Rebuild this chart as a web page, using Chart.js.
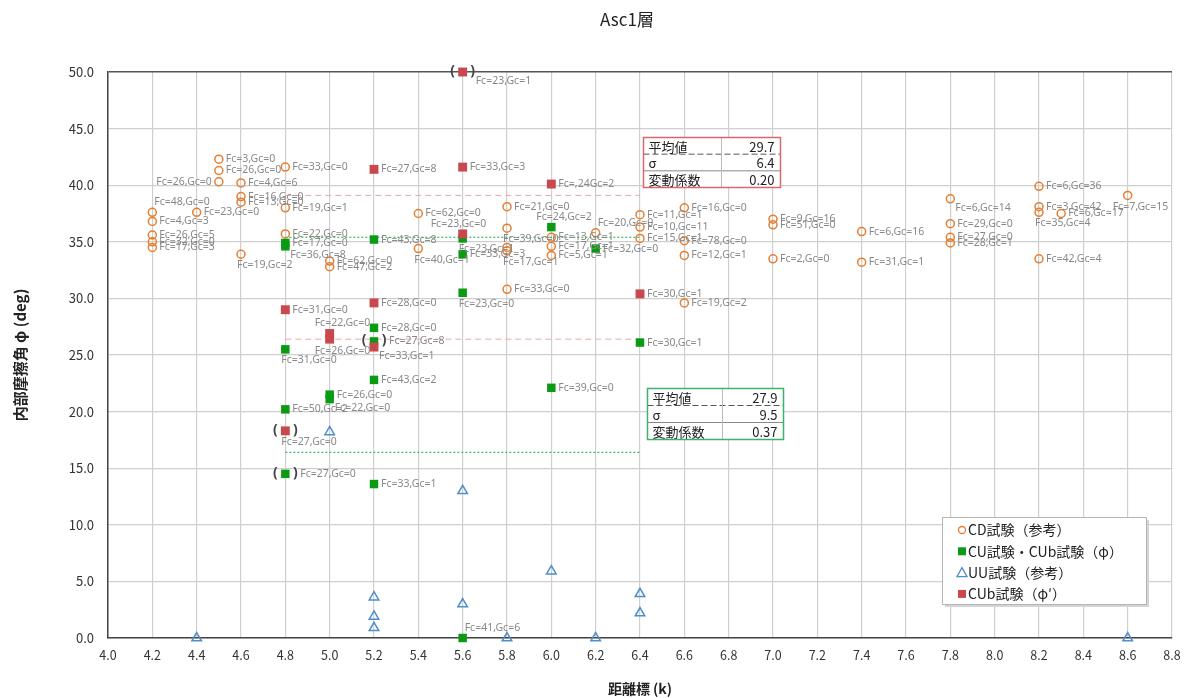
<!DOCTYPE html>
<html lang="ja">
<head>
<meta charset="UTF-8">
<title>Asc1層</title>
<script src="https://cdn.jsdelivr.net/npm/chart.js"></script>
<style>
  html, body { margin: 0; padding: 0; background: #fff; }
  #wrap { width: 1185px; height: 698px; }
</style>
</head>
<body>
<div id="wrap"><canvas id="chart" width="1185" height="698"></canvas></div>
<script>
// ---- axes ----
const xMin = 4.0, xMax = 8.8, xStep = 0.2;
const yMin = 0, yMax = 50, yStep = 5;

// ---- CD試験（参考） ----
const cdX = [4.5, 4.5, 4.5, 4.6, 4.6, 4.6, 4.8, 4.8, 4.2, 4.4, 4.2, 4.2, 4.2, 4.2, 4.6, 4.8, 5.0, 5.0,
  5.4, 5.4, 5.8, 5.8, 5.8, 5.8, 5.8, 6.0, 6.0, 6.0, 6.2, 6.4, 6.4, 6.4, 6.6, 6.6, 6.6, 6.6,
  7.0, 7.0, 7.0, 7.4, 7.4, 7.8, 7.8, 7.8, 7.8, 8.2, 8.2, 8.2, 8.3, 8.2, 8.6];
const cdY = [42.3, 41.3, 40.3, 40.2, 39.0, 38.5, 41.6, 38.0, 37.6, 37.6, 36.8, 35.6, 35.0, 34.5, 33.9, 35.7, 33.3, 32.8,
  37.5, 34.4, 38.1, 36.2, 34.5, 34.2, 30.8, 35.4, 34.6, 33.8, 35.8, 37.4, 36.3, 35.3, 38.0, 35.1, 33.8, 29.6,
  37.0, 36.5, 33.5, 35.9, 33.2, 38.8, 36.6, 35.4, 34.9, 39.9, 38.1, 37.6, 37.5, 33.5, 39.1];
const cdText = ['Fc=3,Gc=0', 'Fc=26,Gc=0', 'Fc=26,Gc=0', 'Fc=4,Gc=6', 'Fc=16,Gc=0', 'Fc=13,Gc=0', 'Fc=33,Gc=0', 'Fc=19,Gc=1',
  'Fc=48,Gc=0', 'Fc=23,Gc=0', 'Fc=4,Gc=3', 'Fc=26,Gc=5', 'Fc=32,Gc=0', 'Fc=17,Gc=3', 'Fc=19,Gc=2', 'Fc=22,Gc=0',
  'Fc=62,Gc=0', 'Fc=47,Gc=2', 'Fc=62,Gc=0', 'Fc=40,Gc=1', 'Fc=21,Gc=0', 'Fc=39,Gc=0', '', 'Fc=17,Gc=1', 'Fc=33,Gc=0',
  'Fc=13,Gc=1', 'Fc=17,Gc=1', 'Fc=5,Gc=1', 'Fc=20,Gc=0', 'Fc=11,Gc=1', 'Fc=10,Gc=11', 'Fc=15,Gc=1',
  'Fc=16,Gc=0', 'Fc=78,Gc=0', 'Fc=12,Gc=1', 'Fc=19,Gc=2', 'Fc=9,Gc=16', 'Fc=51,Gc=0', 'Fc=2,Gc=0',
  'Fc=6,Gc=16', 'Fc=31,Gc=1', 'Fc=6,Gc=14', 'Fc=29,Gc=0', 'Fc=27,Gc=0', 'Fc=28,Gc=1',
  'Fc=6,Gc=36', 'Fc=3,Gc=42', 'Fc=35,Gc=4', 'Fc=6,Gc=17', 'Fc=42,Gc=4', 'Fc=7,Gc=15'];
// where each label sits next to its marker
const cdPlace = ['r', 'r', 'l', 'r', 'r', 'r', 'r', 'r', 'ar', 'r', 'r', 'r', 'r', 'r', 'b', 'r', 'r', 'r',
  'r', 'b', 'r', 'b', 'r', 'b', 'r', 'r', 'r', 'r', 'ar', 'r', 'r', 'r', 'r', 'r', 'r', 'r',
  'r', 'r', 'r', 'r', 'r', 'rb', 'r', 'r', 'r', 'r', 'r', 'b', 'r', 'r', 'bl'];

// ---- CU試験・CUb試験（φ） ----
const cuX = [4.8, 4.8, 5.2, 5.6, 5.6, 5.6, 5.6, 6.0, 6.0, 6.2, 6.4, 4.8, 5.2, 5.2, 5.2, 5.0, 5.0, 4.8, 4.8, 5.2];
const cuY = [34.9, 34.6, 35.2, 35.3, 33.9, 30.5, 0.0, 36.3, 22.1, 34.4, 26.1, 25.5, 27.4, 26.2, 22.8, 21.5, 21.1, 20.2, 14.5, 13.6];
const cuText = ['Fc=17,Gc=0', 'Fc=36,Gc=8', 'Fc=43,Gc=8', 'Fc=23,Gc=1', 'Fc=33,Gc=3', 'Fc=23,Gc=0', 'Fc=41,Gc=6',
  'Fc=24,Gc=2', 'Fc=39,Gc=0', 'Fc=32,Gc=0', 'Fc=30,Gc=1', 'Fc=31,Gc=0', 'Fc=28,Gc=0', 'Fc=27,Gc=8',
  'Fc=43,Gc=2', 'Fc=26,Gc=0', 'Fc=22,Gc=0', 'Fc=50,Gc=2', 'Fc=27,Gc=0', 'Fc=33,Gc=1'];
const cuPlace = ['r', 'rb', 'r', 'b', 'r', 'b', 'ar', 'a', 'r', 'r', 'r', 'b', 'r', 'r', 'r', 'r', 'rb', 'r', 'r', 'r'];
const cuParen = [13, 18];   // excluded values shown in ( )

// ---- UU試験（参考） ----
const uuX = [4.4, 5.0, 5.2, 5.2, 5.2, 5.6, 5.6, 5.8, 6.0, 6.2, 6.4, 6.4, 8.6];
const uuY = [0.0, 18.2, 3.6, 1.9, 0.9, 13.0, 3.0, 0.0, 5.9, 0.0, 3.9, 2.2, 0.0];

// ---- CUb試験（φ'） ----
const cubX = [5.6, 5.6, 5.6, 5.2, 6.0, 6.4, 4.8, 5.2, 5.0, 5.0, 5.2, 4.8];
const cubY = [50.0, 41.6, 35.7, 41.4, 40.1, 30.4, 29.0, 29.6, 26.9, 26.4, 25.7, 18.3];
const cubText = ['Fc=23,Gc=1', 'Fc=33,Gc=3', 'Fc=23,Gc=0', 'Fc=27,Gc=8', 'Fc=,24Gc=2', 'Fc=30,Gc=1',
  'Fc=31,Gc=0', 'Fc=28,Gc=0', 'Fc=22,Gc=0', 'Fc=26,Gc=0', 'Fc=33,Gc=1', 'Fc=27,Gc=0'];
const cubPlace = ['rb', 'r', 'al', 'r', 'r', 'r', 'r', 'r', 'a', 'bl', 'rb', 'b'];
const cubParen = [0, 11];

// ---- reference lines and statistics ----
const refFrom = 4.8, refTo = 6.4;
const cubLines = [39.1, 26.4];
const cuLines = [35.4, 16.4];
const statNames = ['平均値', 'σ', '変動係数'];
const cubStats = ['29.7', '6.4', '0.20'];
const cuStats = ['27.9', '9.5', '0.37'];

const legendText = ['CD試験（参考）', 'CU試験・CUb試験（φ）', 'UU試験（参考）', 'CUb試験（φ\u2032）'];

const ORANGE = '#E67E30', GREEN = '#0B9A14', BLUE = '#4F8DCB', RED = '#C9484D';

Chart.defaults.font.family = "'Noto Sans CJK JP', 'Noto Sans', sans-serif";

const pts = (xs, ys) => xs.map((x, i) => ({ x: x, y: ys[i] }));
const hline = (y, color, dash, w) => ({
  data: [{ x: refFrom, y: y }, { x: refTo, y: y }],
  showLine: true, borderColor: color, borderDash: dash, borderWidth: w,
  pointRadius: 0, order: 10
});

// label offsets: [dx, dy, align]
const placeOffsets = {
  r: [7, 0, 'left'], l: [-7, 0, 'right'], rb: [5, 9, 'left'], b: [-4, 11, 'left'],
  ar: [2, -10, 'left'], a: [-15, -10, 'left'], al: [-32, -10, 'left'], bl: [-15, 12, 'left']
};
// dataset index -> labels
const notes = {
  0: { text: cdText, place: cdPlace, paren: [] },
  1: { text: cuText, place: cuPlace, paren: cuParen },
  3: { text: cubText, place: cubPlace, paren: cubParen }
};

const pointLabels = {
  id: 'pointLabels',
  afterDatasetsDraw(chart) {
    const ctx = chart.ctx;
    ctx.save();
    ctx.textBaseline = 'middle';
    Object.keys(notes).forEach(k => {
      const n = notes[k];
      const meta = chart.getDatasetMeta(+k);
      meta.data.forEach((pt, j) => {
        const br = n.paren.includes(j);
        if (br) {
          ctx.font = "bold 14px 'Noto Sans', sans-serif";
          ctx.fillStyle = '#444';
          ctx.textAlign = 'center';
          ctx.fillText('(', pt.x - 10, pt.y - 1);
          ctx.fillText(')', pt.x + 10, pt.y - 1);
        }
        const txt = n.text[j];
        if (!txt) return;
        const o = placeOffsets[n.place[j]] || placeOffsets.r;
        let dx = o[0];
        if (br && dx > 0) dx += 8;
        ctx.font = "10.5px 'Noto Sans', sans-serif";
        ctx.fillStyle = '#888';
        ctx.textAlign = o[2];
        ctx.fillText(txt, pt.x + dx, pt.y + o[1]);
      });
    });
    ctx.restore();
  }
};

function statBox(ctx, chart, ax, ay, w, h, div, color, vals) {
  const x0 = Math.round(chart.scales.x.getPixelForValue(ax)) + 0.5;
  const y0 = Math.round(chart.scales.y.getPixelForValue(ay)) + 0.5;
  const rh = h / 3;
  ctx.fillStyle = '#fff';
  ctx.fillRect(x0, y0, w, h);
  ctx.lineWidth = 1;
  ctx.strokeStyle = '#555';
  ctx.setLineDash([6, 3]);
  ctx.beginPath(); ctx.moveTo(x0, y0 + rh); ctx.lineTo(x0 + w, y0 + rh); ctx.stroke();
  ctx.setLineDash([]);
  ctx.strokeStyle = '#888';
  ctx.beginPath(); ctx.moveTo(x0, y0 + 2 * rh); ctx.lineTo(x0 + w, y0 + 2 * rh); ctx.stroke();
  ctx.strokeStyle = '#bbb';
  ctx.beginPath(); ctx.moveTo(x0 + div, y0); ctx.lineTo(x0 + div, y0 + h); ctx.stroke();
  ctx.font = "13px 'Noto Sans CJK JP', sans-serif";
  ctx.fillStyle = '#222';
  ctx.textBaseline = 'middle';
  for (let i = 0; i < 3; i++) {
    const cy = y0 + rh * (i + 0.5) + 1;
    ctx.textAlign = 'left';
    ctx.fillText(statNames[i], x0 + 5, cy);
    ctx.textAlign = 'right';
    ctx.fillText(vals[i], x0 + w - 6, cy);
  }
  ctx.strokeStyle = color;
  ctx.lineWidth = 1.5;
  ctx.strokeRect(x0, y0, w, h);
}

function legendMark(ctx, kind, x, y) {
  ctx.lineWidth = 1.3;
  if (kind === 0) {
    ctx.strokeStyle = ORANGE;
    ctx.beginPath(); ctx.arc(x, y, 3.5, 0, Math.PI * 2); ctx.stroke();
  } else if (kind === 1 || kind === 3) {
    ctx.fillStyle = kind === 1 ? GREEN : RED;
    ctx.fillRect(x - 4, y - 4, 8, 8);
  } else {
    ctx.strokeStyle = BLUE;
    ctx.beginPath(); ctx.moveTo(x, y - 5); ctx.lineTo(x + 5, y + 4); ctx.lineTo(x - 5, y + 4); ctx.closePath(); ctx.stroke();
  }
}

const extras = {
  id: 'extras',
  afterDraw(chart) {
    const ctx = chart.ctx;
    const a = chart.chartArea;
    ctx.save();
    // title
    ctx.font = "17px 'Noto Sans CJK JP', sans-serif";
    ctx.fillStyle = '#222';
    ctx.textAlign = 'center';
    ctx.textBaseline = 'middle';
    ctx.fillText('Asc1層', 627, 20);

    statBox(ctx, chart, 6.414, 44.26, 137, 50, 78, '#D9676B', cubStats);
    statBox(ctx, chart, 6.432, 22.08, 136, 51, 75, '#3DB36A', cuStats);

    // legend
    const lx = a.right - 230, ly = a.bottom - 121, lw = 204, lh = 87;
    ctx.fillStyle = '#d4d4d4';
    ctx.fillRect(lx + 3, ly + 3, lw, lh);
    ctx.fillStyle = '#fff';
    ctx.fillRect(lx, ly, lw, lh);
    ctx.strokeStyle = '#b5b5b5';
    ctx.lineWidth = 1;
    ctx.strokeRect(lx + 0.5, ly + 0.5, lw, lh);
    ctx.font = "14px 'Noto Sans CJK JP', sans-serif";
    ctx.textAlign = 'left';
    for (let i = 0; i < legendText.length; i++) {
      const cy = ly + 13 + i * 21.3;
      legendMark(ctx, i, lx + 20, cy);
      ctx.fillStyle = '#222';
      ctx.fillText(legendText[i], lx + 26, cy);
    }
    ctx.restore();
  }
};

new Chart(document.getElementById('chart'), {
  type: 'scatter',
  data: {
    datasets: [
      { label: legendText[0], data: pts(cdX, cdY), pointStyle: 'circle', pointRadius: 4, borderWidth: 1.5,
        borderColor: ORANGE, backgroundColor: 'rgba(255,255,255,0)', clip: false, order: 4 },
      { label: legendText[1], data: pts(cuX, cuY), pointStyle: 'rect', pointRadius: 6, borderWidth: 0,
        borderColor: GREEN, backgroundColor: GREEN, clip: false, order: 2 },
      { label: legendText[2], data: pts(uuX, uuY), pointStyle: 'triangle', pointRadius: 5.5, borderWidth: 1.5,
        borderColor: BLUE, backgroundColor: 'rgba(255,255,255,0)', clip: false, order: 3 },
      { label: legendText[3], data: pts(cubX, cubY), pointStyle: 'rect', pointRadius: 6.3, borderWidth: 0,
        borderColor: RED, backgroundColor: RED, clip: false, order: 1 },
      hline(cubLines[0], '#EBA5A8', [6, 4], 1),
      hline(cubLines[1], '#EBA5A8', [6, 4], 1),
      hline(cuLines[0], '#3DB36A', [2, 2], 1.2),
      hline(cuLines[1], '#3DB36A', [2, 2], 1.2)
    ]
  },
  options: {
    responsive: false,
    animation: false,
    layout: { padding: { top: 72, right: 13, left: 0, bottom: 0 } },
    plugins: { legend: { display: false }, tooltip: { enabled: false } },
    scales: {
      x: {
        type: 'linear', min: xMin, max: xMax,
        afterFit(s) { s.height = 60; },
        ticks: { stepSize: xStep, maxTicksLimit: 40, autoSkip: false, maxRotation: 0, padding: 3,
          color: '#333', font: { size: 12.5 }, callback: v => v.toFixed(1) },
        grid: { color: '#cfcfcf', lineWidth: 1.2, drawTicks: true, tickLength: 7, tickColor: 'rgba(0,0,0,0)' },
        border: { color: '#444', width: 1.5 },
        title: { display: true, text: '距離標 (k)', color: '#222', font: { size: 14, weight: 'bold' },
          padding: { top: 0, bottom: 1 } }
      },
      y: {
        min: yMin, max: yMax,
        afterFit(s) { s.width = 108; },
        ticks: { stepSize: yStep, padding: 14, color: '#333', font: { size: 13 }, callback: v => v.toFixed(1) },
        grid: { color: c => c.tick && c.tick.value === yMax ? '#555' : '#cfcfcf',
          lineWidth: c => c.tick && c.tick.value === yMax ? 1.6 : 1.2, drawTicks: false },
        border: { color: '#444', width: 1.5 },
        title: { display: true, text: '内部摩擦角 φ (deg)', color: '#222', font: { size: 15, weight: 'bold' },
          padding: { top: 11, bottom: 0 } }
      }
    }
  },
  plugins: [pointLabels, extras]
});
</script>
</body>
</html>
